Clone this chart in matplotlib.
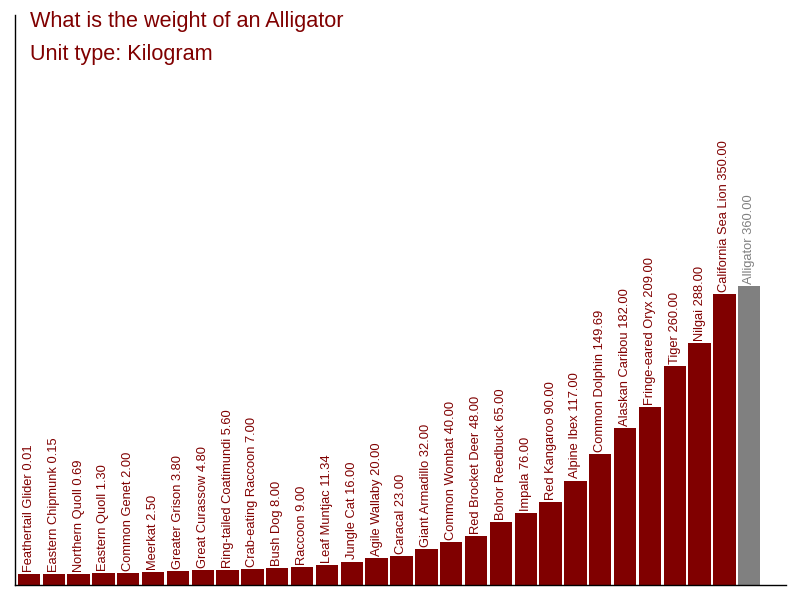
import numpy as np
import matplotlib
matplotlib.use("Agg")
import matplotlib.pyplot as plt

plt.rcParams['font.family'] = ['Liberation Sans', 'DejaVu Sans']

animals = ["Feathertail Glider", "Eastern Chipmunk", "Northern Quoll", "Eastern Quoll",
           "Common Genet", "Meerkat", "Greater Grison", "Great Curassow",
           "Ring-tailed Coatimundi", "Crab-eating Raccoon", "Bush Dog", "Raccoon",
           "Leaf Muntjac", "Jungle Cat", "Agile Wallaby", "Caracal", "Giant Armadillo",
           "Common Wombat", "Red Brocket Deer", "Bohor Reedbuck", "Impala", "Red Kangaroo",
           "Alpine Ibex", "Common Dolphin", "Alaskan Caribou", "Fringe-eared Oryx", "Tiger",
           "Nilgai", "California Sea Lion", "Alligator"]
weights = [0.01, 0.15, 0.69, 1.30, 2.00, 2.50, 3.80, 4.80, 5.60, 7.00, 8.00, 9.00,
           11.34, 16.00, 20.00, 23.00, 32.00, 40.00, 48.00, 65.00, 76.00, 90.00,
           117.00, 149.69, 182.00, 209.00, 260.00, 288.00, 350.00, 360.00]
highlight = "Alligator"
title = "What is the weight of an Alligator"
subtitle = "Unit type: Kilogram"

red = "#800000"
grey = "#808080"
pad = 13.3  # minimum visible bar stub below zero

fig = plt.figure(figsize=(8, 6), dpi=100)
ax = fig.add_axes([0.01875, 0.025, 0.96375, 0.95])

x = np.arange(len(animals))
w = np.array(weights)
cols = [grey if a == highlight else red for a in animals]
ax.bar(x, w + pad, bottom=-pad, width=0.9, color=cols)

for i in range(len(animals)):
    ax.annotate("%s %.2f" % (animals[i], weights[i]), (x[i], w[i]),
                xytext=(0, 1.5), textcoords="offset points",
                rotation=90, ha="center", va="bottom",
                fontsize=9.3, color=cols[i])

ax.set_xlim(-0.56, 30.48)
ax.set_ylim(-pad, 697.7)
ax.set_xticks([])
ax.set_yticks([])
for s in ["top", "right"]:
    ax.spines[s].set_visible(False)
ax.spines["left"].set_linewidth(1)
ax.spines["bottom"].set_linewidth(1)

fig.text(30.5 / 800, 1 - 27.5 / 600, title, fontsize=15.6, color=red, va="baseline")
fig.text(30.5 / 800, 1 - 60 / 600, subtitle, fontsize=15.6, color=red, va="baseline")

fig.savefig("out.png", dpi=100)
